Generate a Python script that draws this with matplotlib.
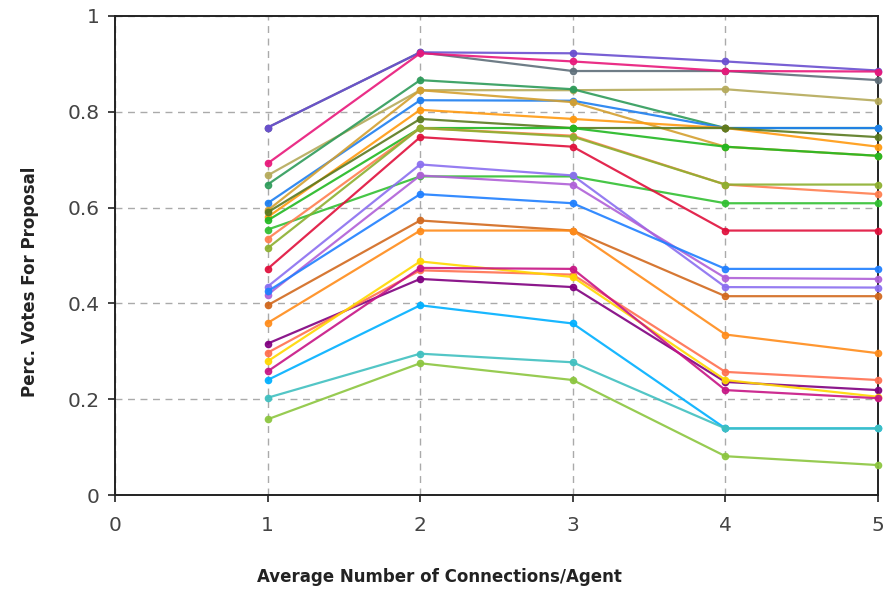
import matplotlib
matplotlib.use("Agg")
import matplotlib.pyplot as plt

plt.rcParams['font.family'] = ['DejaVu Sans']

x = [1, 2, 3, 4, 5]

# one entry per run: colour and fraction of votes at each connection level
colors = [
    '#5f6f7a', '#6a4fd0', '#e8187a', '#b5aa5a', '#2e9b5a', '#1e7ff0',
    '#d4a030', '#ff9a10', '#5a7a20', '#22b822', '#33c033', '#ff7f50',
    '#8db030', '#e0103c', '#8b6ff0', '#b060d8', '#2080ff', '#d2691e',
    '#ff8c1a', '#800080', '#ff7050', '#ffd700', '#c71585', '#00b0ff',
    '#40c0c0', '#8cc63f',
]
votes = [
    [0.767, 0.924, 0.885, 0.885, 0.866],
    [0.767, 0.924, 0.922, 0.905, 0.886],
    [0.692, 0.922, 0.905, 0.885, 0.884],
    [0.667, 0.845, 0.845, 0.847, 0.823],
    [0.648, 0.866, 0.847, 0.766, 0.766],
    [0.609, 0.824, 0.823, 0.766, 0.766],
    [0.594, 0.845, 0.820, 0.727, 0.708],
    [0.580, 0.804, 0.785, 0.766, 0.727],
    [0.590, 0.785, 0.766, 0.766, 0.747],
    [0.573, 0.766, 0.766, 0.727, 0.708],
    [0.554, 0.665, 0.665, 0.609, 0.609],
    [0.535, 0.766, 0.750, 0.648, 0.628],
    [0.515, 0.766, 0.748, 0.648, 0.648],
    [0.472, 0.747, 0.727, 0.552, 0.552],
    [0.435, 0.690, 0.667, 0.434, 0.433],
    [0.418, 0.667, 0.648, 0.453, 0.451],
    [0.425, 0.628, 0.609, 0.472, 0.472],
    [0.396, 0.573, 0.552, 0.415, 0.415],
    [0.359, 0.552, 0.552, 0.335, 0.296],
    [0.316, 0.451, 0.434, 0.236, 0.219],
    [0.297, 0.469, 0.460, 0.257, 0.240],
    [0.279, 0.4875, 0.455, 0.240, 0.205],
    [0.258, 0.474, 0.472, 0.219, 0.202],
    [0.240, 0.396, 0.358, 0.139, 0.139],
    [0.203, 0.295, 0.277, 0.139, 0.139],
    [0.158, 0.275, 0.240, 0.081, 0.0625],
]

x_ticks = [0, 1, 2, 3, 4, 5]
y_ticks = [0, 0.2, 0.4, 0.6, 0.8, 1]
y_tick_labels = ['0', '0.2', '0.4', '0.6', '0.8', '1']

fig = plt.figure(figsize=(8.94, 5.90), dpi=100)
ax = fig.add_axes([0.1286, 0.161, 0.8535, 0.812])

for c, v in zip(colors, votes):
    ax.plot(x, v, color=c, linewidth=1.6, marker='o', markersize=4.5,
            alpha=0.9, clip_on=False, zorder=3)

ax.set_xlim(0, 5)
ax.set_ylim(0, 1)
ax.set_xticks(x_ticks)
ax.set_xticklabels([str(t) for t in x_ticks])
ax.set_yticks(y_ticks)
ax.set_yticklabels(y_tick_labels)

ax.grid(True, color='#aaaaaa', linestyle=(0, (5, 4)), linewidth=1.0)
ax.set_axisbelow(True)

for s in ax.spines.values():
    s.set_color('#222222')
    s.set_linewidth(1.4)

ax.tick_params(direction='out', length=5, width=1.2, color='#222222',
               labelsize=14.5, labelcolor='#444444', pad=6)
ax.tick_params(axis='x', pad=10)

# axis titles are centred on the whole figure, not on the plot area
fig.text(0.492, 0.022, 'Average Number of Connections/Agent', fontsize=12,
         fontweight='bold', color='#222222', ha='center', va='center')
fig.text(0.034, 0.522, 'Perc. Votes For Proposal', fontsize=12,
         fontweight='bold', color='#222222', ha='center', va='center',
         rotation=90)

fig.savefig('out.png', dpi=100)
